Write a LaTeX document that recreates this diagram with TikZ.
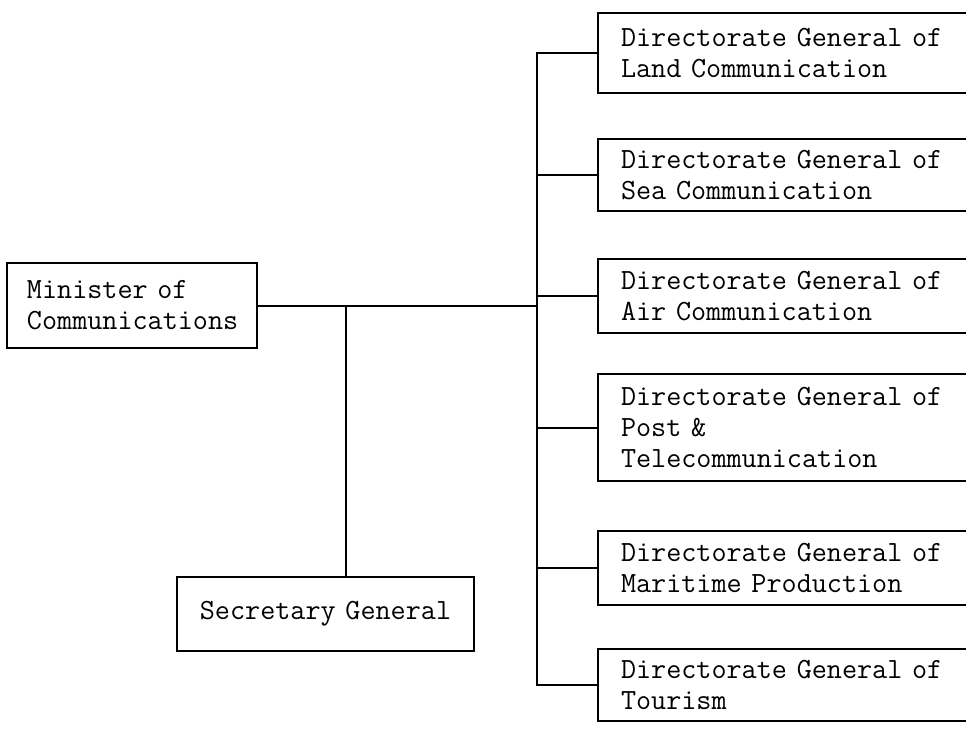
\documentclass[tikz,border=0pt]{standalone}
\usepackage{fontspec}
\begin{document}
\begin{tikzpicture}[x=1pt,y=-1pt,
  every node/.style={font=\ttfamily\fontsize{29.3}{31}\selectfont},
  link/.style={line width=2pt},
  orgbox/.style={draw, line width=2pt, anchor=north west, align=left},
  dgbox/.style={orgbox, text width=360pt, inner xsep=23pt, inner ysep=0pt}]
\useasboundingbox (0,0) rectangle (966,730);
\clip (0,0) rectangle (966,730);

% Minister and Secretary General
\node[orgbox, text width=210pt, inner xsep=20pt, minimum height=85pt] (min) at (6,262)
  {Minister of\\Communications};
\node[orgbox, text width=255pt, inner xsep=21pt, minimum height=74pt, align=center] (sec) at (176,576)
  {Secretary General};

% Directorates General (boxes run past the right edge)
\node[dgbox, minimum height=80pt]  (d1) at (597,12)  {Directorate General of\\Land Communication};
\node[dgbox, minimum height=72pt]  (d2) at (597,138) {Directorate General of\\Sea Communication};
\node[dgbox, minimum height=74pt]  (d3) at (597,258) {Directorate General of\\Air Communication};
\node[dgbox, minimum height=107pt] (d4) at (597,373) {Directorate General of\\Post \&\\Telecommunication};
\node[dgbox, minimum height=74pt]  (d5) at (597,530) {Directorate General of\\Maritime Production};
\node[dgbox, minimum height=72pt]  (d6) at (597,648) {Directorate General of\\Tourism};

% spine and junction coordinates
\coordinate (sp) at (537,0);
\coordinate (jn) at (346,0);

% vertical spine with stubs to each directorate
\draw[link] (d1.west) -- (d1.west -| sp) -- (d6.west -| sp) -- (d6.west);
\foreach \b in {d2,d3,d4,d5}
  \draw[link] (\b.west) -- (\b.west -| sp);

% minister to spine, branch to secretary general
\draw[link] (min.east) -- (min.east -| sp);
\draw[link] (min.east -| jn) -- (sec.north -| jn);
\end{tikzpicture}
\end{document}
